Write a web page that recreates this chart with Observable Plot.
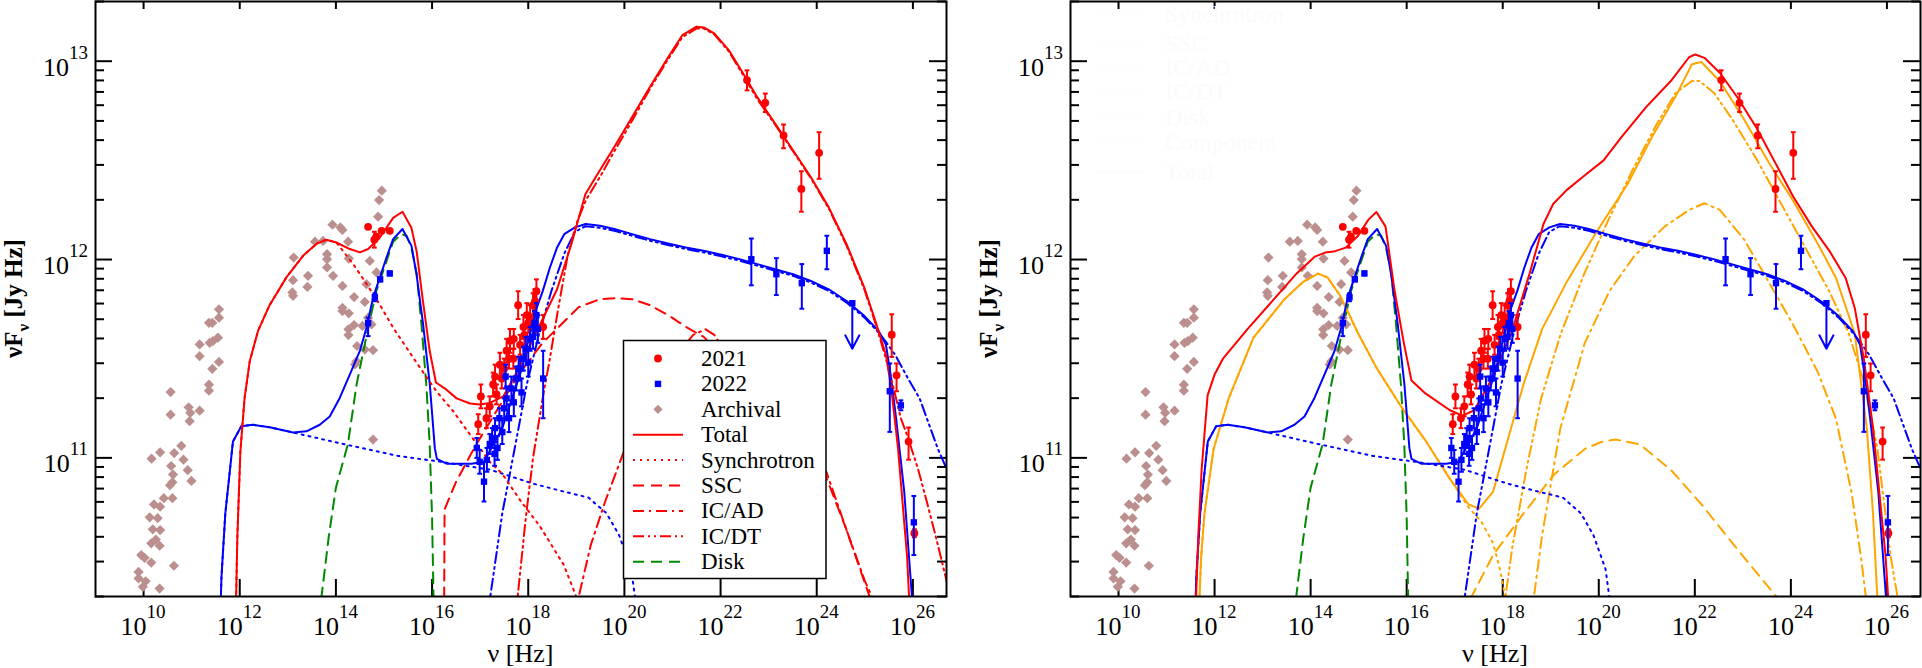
<!DOCTYPE html>
<html><head><meta charset="utf-8">
<script src="https://cdn.jsdelivr.net/npm/d3@7"></script>
<script src="https://cdn.jsdelivr.net/npm/@observablehq/plot@0.6"></script>
<style>
body{margin:0;background:#fff;}
#wrap{display:flex;width:1922px;height:668px;overflow:hidden;}
svg{display:block;flex:none;}
.ser, .ser text, .ser tspan{font-family:"Liberation Serif","Times New Roman","DejaVu Serif",serif !important;}
.ghost text{fill:#fbfbfb;}
.ghost line{stroke:#fcfcfc;}
</style></head><body><div id="wrap"></div>
<script>
// ---------- DATA (log10 nu [Hz], log10 nuFnu [Jy Hz]) ----------
const xTickExp = [10,12,14,16,18,20,22,24,26];
const yTickExp = [11,12,13];

// Archival (rosy-brown diamonds)
const archival = [
 [10.562,11.332],[10.562,11.218],[10.785,11.061],[10.937,11.255],[10.972,11.227],[10.958,11.185],[11.166,11.572],[11.166,11.513],[11.166,11.238],[11.36,11.681],[11.43,11.681],[11.374,11.58],[11.443,11.589],[11.547,11.606],[11.568,11.749],[11.568,11.707],[11.568,11.484],[11.43,11.449],[11.36,11.369],[11.36,11.339],
 [10.344,11.028],[10.166,10.996],[10.638,11.024],[10.829,10.991],[10.918,10.938],[10.995,10.884],[10.574,10.959],[10.612,10.916],[10.599,10.877],[10.548,10.862],[10.421,10.797],[10.599,10.797],[10.217,10.765],[10.344,10.754],[10.128,10.70],[10.293,10.696],[10.191,10.64],[10.344,10.636],[10.255,10.588],
 [10.16,10.569],[10.333,10.557],[9.952,10.51],[10.021,10.496],[10.16,10.472],[10.631,10.456],[9.896,10.425],[9.896,10.392],[10.042,10.378],[9.985,10.35],[10.333,10.341],
 [13.122,12.01],[13.108,11.896],[13.094,11.834],[13.108,11.817],[13.42,11.918],[13.407,11.862],[13.566,12.09],[13.733,12.094],[13.816,12.027],[13.816,12.002],[13.816,11.96],[13.928,12.176],[13.941,11.918],[14.094,12.162],[14.136,12.149],[14.253,12.09],[14.268,12.005],[14.136,11.867],[14.378,11.811],[14.601,11.786],[14.136,11.757],[14.136,11.74],[14.268,11.729],[14.261,11.648],[14.261,11.619],[14.378,11.670],[14.552,11.665],[14.636,11.876],[14.669,11.707],[14.74,11.673],[14.773,11.543],[14.601,11.546],[14.44,11.564],[14.427,11.487],[14.398,11.471],[14.844,11.935],[14.877,12.216],[14.898,12.30],[14.954,12.347],[14.705,11.993],[14.773,11.092]
];

// 2021 (red circles): [logNu, logF, logLow, logHigh]
const obs2021 = [
 [14.67,12.165,12.165,12.165],[14.80,12.10,12.06,12.14],[14.84,12.115,12.115,12.115],[14.95,12.145,12.145,12.145],[15.12,12.145,12.145,12.145],
 [16.96,11.17,11.12,11.22],[17.015,11.31,11.25,11.37],[17.13,11.20,11.15,11.25],[17.20,11.26,11.21,11.31],[17.27,11.37,11.31,11.43],[17.31,11.41,11.35,11.47],[17.34,11.32,11.27,11.37],[17.41,11.47,11.41,11.53],[17.45,11.40,11.35,11.45],[17.50,11.45,11.40,11.50],[17.55,11.54,11.48,11.60],[17.60,11.50,11.45,11.55],[17.62,11.59,11.53,11.65],[17.69,11.50,11.45,11.55],[17.70,11.60,11.55,11.65],[17.79,11.77,11.70,11.84],[17.83,11.57,11.52,11.62],[17.90,11.66,11.60,11.72],[17.92,11.62,11.57,11.67],[17.97,11.72,11.66,11.78],[18.00,11.68,11.63,11.73],[18.04,11.71,11.65,11.77],[18.10,11.77,11.71,11.83],[18.14,11.79,11.73,11.85],[18.17,11.84,11.78,11.90],[18.31,11.66,11.60,11.72],
 [22.55,12.905,12.853,12.954],[22.93,12.79,12.744,12.837],[23.31,12.626,12.561,12.681],[23.68,12.356,12.241,12.445],[24.05,12.538,12.407,12.642],
 [25.56,11.621,11.509,11.724],[25.66,11.416,11.336,11.476],[25.91,11.082,10.991,11.153],[26.03,10.62,10.60,10.64]
];

// 2022 (blue squares): [logNu, logF, logLow, logHigh]
const obs2022 = [
 [14.67,11.68,11.614,11.707],[14.81,11.81,11.79,11.83],[14.92,11.90,11.89,11.91],[15.12,11.93,11.92,11.94],
 [16.93,11.05,11.00,11.10],[16.99,10.98,10.92,11.04],[17.08,10.88,10.78,10.98],[17.14,10.99,10.93,11.05],[17.20,11.07,11.02,11.12],[17.25,11.10,11.05,11.15],[17.30,11.02,10.96,11.08],[17.31,11.15,11.10,11.20],[17.36,11.05,10.99,11.11],[17.40,11.20,11.15,11.25],[17.46,11.13,11.07,11.19],[17.50,11.25,11.20,11.30],[17.53,11.41,11.35,11.47],[17.55,11.30,11.24,11.36],[17.60,11.20,11.13,11.27],[17.65,11.35,11.29,11.41],[17.70,11.28,11.21,11.35],[17.75,11.40,11.34,11.46],[17.80,11.45,11.39,11.51],[17.83,11.45,11.40,11.50],[17.86,11.33,11.26,11.40],[17.90,11.50,11.44,11.56],[17.95,11.55,11.49,11.61],[18.00,11.48,11.41,11.55],[18.04,11.60,11.54,11.66],[18.10,11.61,11.55,11.67],[18.13,11.68,11.62,11.74],[18.17,11.72,11.66,11.78],[18.20,11.65,11.58,11.72],[18.31,11.40,11.20,11.54],
 [22.64,12.002,11.87,12.106],[23.16,11.926,11.821,12.007],[23.69,11.881,11.752,11.977],[24.21,12.044,11.951,12.12],
 [25.52,11.336,11.131,11.476],[25.75,11.265,11.24,11.29],[26.02,10.675,10.51,10.808]
];
// 2022 upper limit: [logNu, logF, arrow tip]
const ul2022 = [[24.74,11.78,11.55]];

// ---- Left-panel model curves ----
const redTotalL = [[11.90,10.0],[11.95,10.6],[12.013,11.032],[12.10,11.30],[12.21,11.49],[12.38,11.64],[12.62,11.77],[12.97,11.91],[13.32,12.02],[13.60,12.08],[13.80,12.10],[14.01,12.086],[14.29,12.053],[14.50,12.036],[14.67,12.053],[14.91,12.11],[15.19,12.21],[15.385,12.241],[15.57,12.16],[15.68,12.04],[15.81,11.79],[15.95,11.54],[16.08,11.38],[16.30,11.344],[16.51,11.30],[16.79,11.274],[16.99,11.269],[17.20,11.277],[17.48,11.31],[17.85,11.47],[18.2,11.65],[18.6,11.85],[18.9,12.08],[19.19,12.33],[19.49,12.45],[19.79,12.567],[20.16,12.718],[20.53,12.87],[20.91,13.02],[21.20,13.13],[21.50,13.174],[21.65,13.17],[21.87,13.14],[22.17,13.056],[22.47,12.938],[22.76,12.82],[23.135,12.685],[23.51,12.55],[23.88,12.415],[24.25,12.263],[24.62,12.078],[24.99,11.858],[25.22,11.69],[25.44,11.52],[25.55,11.35],[25.69,11.05],[25.88,10.5],[25.98,10.0]];
const redSynL = [[11.90,10.0],[11.95,10.6],[12.013,11.032],[12.10,11.30],[12.21,11.49],[12.38,11.64],[12.62,11.77],[12.97,11.91],[13.32,12.02],[13.60,12.08],[13.80,12.10],[14.01,12.086],[14.36,11.977],[14.64,11.876],[14.91,11.774],[15.19,11.656],[15.47,11.555],[15.75,11.454],[16.09,11.336],[16.44,11.235],[16.79,11.117],[17.2,10.98],[17.46,10.92],[17.85,10.78],[18.23,10.66],[18.74,10.46],[19.0,10.3],[19.1,10.2]];
const redSscL = [[16.25,10.2],[16.26,10.74],[16.5,10.88],[16.9,11.06],[17.3,11.22],[17.8,11.42],[18.3,11.58],[18.8,11.70],[19.05,11.76],[19.49,11.80],[19.79,11.805],[20.16,11.80],[20.53,11.77],[20.91,11.72],[21.28,11.66],[21.65,11.61],[22.3,11.45],[23.0,11.24],[23.6,11.06],[24.2,10.9],[24.6,10.65],[25.1,10.3],[25.2,10.2]];
const redIcadL = [[19.0,10.2],[19.05,10.3],[19.3,10.56],[19.6,10.78],[19.97,11.02],[20.3,11.2],[20.7,11.38],[21.1,11.52],[21.43,11.62],[21.69,11.648],[21.87,11.62],[22.2,11.5],[22.6,11.35],[23.1,11.18],[23.6,11.03],[24.2,10.93],[24.6,10.65],[25.0,10.38],[25.15,10.3],[25.25,10.2]];
const redIcdtL = [[17.75,10.2],[17.78,10.3],[17.95,10.7],[18.1,11.0],[18.3,11.3],[18.45,11.5],[18.6,11.72],[18.82,12.02],[19.0,12.18],[19.2,12.30],[19.5,12.42],[19.8,12.55],[20.16,12.70],[20.53,12.86],[20.91,13.01],[21.2,13.12],[21.5,13.165],[21.65,13.165],[21.87,13.135],[22.17,13.05],[22.47,12.93],[22.76,12.81],[23.135,12.68],[23.51,12.545],[23.88,12.41],[24.25,12.258],[24.62,12.07],[24.99,11.85],[25.22,11.68],[25.44,11.50],[25.6,11.35],[25.75,11.2],[25.9,11.1],[26.1,10.95],[26.3,10.77],[26.5,10.58],[26.67,10.41],[26.75,10.33]];

// ---- Blue (2022) model curves (same in both panels) ----
const blueTotal = [[11.57,10.0],[11.62,10.4],[11.70,10.72],[11.859,11.083],[12.033,11.159],[12.275,11.167],[12.623,11.154],[13.108,11.128],[13.387,11.134],[13.664,11.167],[13.872,11.209],[14.08,11.302],[14.288,11.42],[14.496,11.538],[14.636,11.656],[14.773,11.808],[14.913,11.909],[15.052,12.01],[15.19,12.103],[15.385,12.154],[15.572,12.069],[15.676,11.926],[15.814,11.673],[15.953,11.37],[16.057,11.049],[16.10,10.995],[16.31,10.97],[16.82,10.97],[17.08,10.98],[17.46,11.15],[17.84,11.43],[18.154,11.741],[18.303,11.842],[18.451,11.96],[18.6,12.061],[18.749,12.128],[18.972,12.162],[19.194,12.179],[19.492,12.17],[19.79,12.154],[20.161,12.128],[20.533,12.103],[20.906,12.081],[21.276,12.061],[21.648,12.044],[22.019,12.024],[22.392,12.002],[22.762,11.977],[23.135,11.951],[23.507,11.926],[23.878,11.892],[24.251,11.85],[24.621,11.791],[24.994,11.715],[25.291,11.639],[25.44,11.57],[25.55,11.40],[25.65,11.20],[25.82,10.83],[25.98,10.3],[26.02,10.0]];
const blueSyn = [[11.57,10.0],[11.62,10.4],[11.70,10.72],[11.859,11.083],[12.033,11.159],[12.275,11.167],[12.623,11.154],[13.108,11.128],[13.25,11.12],[14.15,11.07],[15.29,11.01],[16.19,10.98],[17.21,10.94],[18.1,10.87],[18.74,10.83],[19.25,10.80],[19.63,10.72],[19.89,10.61],[20.14,10.44],[20.22,10.3],[20.25,10.2]];
const blueIc = [[17.18,10.2],[17.21,10.3],[17.46,10.72],[17.72,11.05],[17.97,11.37],[18.23,11.63],[18.48,11.84],[18.75,12.03],[18.97,12.14],[19.19,12.168],[19.49,12.16],[19.79,12.145],[20.161,12.12],[20.533,12.095],[20.906,12.073],[21.276,12.053],[21.648,12.036],[22.019,12.016],[22.392,11.994],[22.762,11.969],[23.135,11.943],[23.507,11.918],[23.878,11.884],[24.251,11.842],[24.621,11.783],[24.994,11.707],[25.291,11.631],[25.44,11.585],[25.63,11.52],[25.9,11.40],[26.14,11.30],[26.52,11.045],[26.71,10.94]];
const disk = [[13.68,10.2],[13.70,10.30],[13.85,10.6],[14.0,10.85],[14.25,11.07],[14.43,11.37],[14.64,11.62],[14.84,11.84],[15.05,11.99],[15.19,12.09],[15.36,12.128],[15.47,12.12],[15.57,12.06],[15.68,11.93],[15.78,11.67],[15.88,11.37],[15.95,11.07],[16.0,10.7],[16.03,10.30],[16.04,10.2]];

// ---- Right-panel model curves ----
const redTotalR = [[11.60,10.2],[11.66,10.6],[11.73,10.94],[11.855,11.315],[12.0,11.42],[12.175,11.50],[12.69,11.65],[13.2,11.79],[13.71,11.93],[14.09,12.015],[14.3,12.035],[14.48,12.04],[14.73,12.06],[14.99,12.12],[15.2,12.20],[15.37,12.24],[15.56,12.166],[15.75,11.84],[15.94,11.58],[16.1,11.39],[16.39,11.325],[16.9,11.24],[17.16,11.213],[17.41,11.24],[17.8,11.41],[18.18,11.63],[18.56,11.93],[18.85,12.18],[19.05,12.28],[19.33,12.35],[19.71,12.425],[20.1,12.50],[20.48,12.62],[20.99,12.77],[21.5,12.90],[21.88,13.02],[22.01,13.034],[22.2,13.017],[22.52,12.942],[22.9,12.813],[23.29,12.662],[23.67,12.49],[24.05,12.317],[24.44,12.166],[24.82,12.037],[25.14,11.907],[25.33,11.756],[25.52,11.498],[25.71,11.153],[25.84,10.83],[25.97,10.51],[26.05,10.2]];
const orangeTotal = [[11.67,10.2],[11.72,10.5],[11.79,10.72],[11.98,11.045],[12.30,11.304],[12.81,11.606],[13.455,11.80],[13.835,11.886],[14.155,11.929],[14.35,11.91],[14.61,11.82],[14.99,11.627],[15.37,11.455],[15.88,11.26],[16.39,11.088],[16.9,10.894],[17.29,10.765],[17.51,10.744],[17.8,10.83],[18.05,11.045],[18.43,11.369],[18.82,11.649],[19.33,11.886],[19.965,12.144],[20.6,12.381],[21.11,12.619],[21.625,12.834],[21.94,12.985],[22.135,12.996],[22.52,12.899],[23.03,12.705],[23.54,12.489],[24.05,12.295],[24.56,12.08],[24.94,11.907],[25.33,11.627],[25.58,11.153],[25.71,10.72],[25.82,10.2]];
const orangeSyn = [[11.67,10.2],[11.72,10.5],[11.79,10.72],[11.98,11.045],[12.30,11.304],[12.81,11.606],[13.455,11.80],[13.835,11.886],[14.155,11.929],[14.35,11.91],[14.61,11.82],[14.99,11.627],[15.37,11.455],[15.88,11.26],[16.39,11.088],[16.9,10.894],[17.29,10.75],[17.55,10.68],[17.8,10.57],[17.95,10.43],[18.05,10.3],[18.1,10.2]];
const orangeSsc = [[17.3,10.2],[17.35,10.3],[17.8,10.51],[18.435,10.72],[19.07,10.916],[19.71,11.045],[20.05,11.08],[20.35,11.093],[20.86,11.067],[21.5,10.94],[22.14,10.765],[22.78,10.571],[23.29,10.42],[23.7,10.3],[23.8,10.25]];
const orangeIcad = [[18.6,10.2],[18.65,10.3],[18.82,10.61],[19.2,11.15],[19.71,11.58],[20.22,11.84],[20.73,12.015],[21.37,12.166],[21.88,12.25],[22.2,12.284],[22.52,12.25],[23.03,12.10],[23.54,11.886],[24.05,11.67],[24.56,11.433],[24.94,11.196],[25.26,10.83],[25.46,10.5],[25.56,10.3],[25.6,10.2]];
const orangeIcdt = [[18.0,10.2],[18.2,10.55],[18.5,10.95],[18.8,11.3],[19.2,11.62],[19.7,11.93],[20.2,12.2],[20.7,12.45],[21.2,12.68],[21.6,12.84],[21.94,12.90],[22.1,12.90],[22.4,12.84],[22.8,12.70],[23.3,12.50],[23.8,12.28],[24.3,12.06],[24.8,11.84],[25.2,11.63],[25.5,11.40],[25.8,11.05],[26.08,10.5],[26.22,10.3],[26.3,10.15]];

const legendLabels = ["2021","2022","Archival","Total","Synchrotron","SSC","IC/AD","IC/DT","Disk"];
const ghostLabels = ["Synchrotron","SSC","IC/AD","IC/DT","Disk","Component","Total"];

// ---------- STYLE ----------
const RED="#ff0000", BLUE="#0000ff", GREEN="#008a00", ORANGE="#ffa500", ARCH="#bc8f8f";
const DOT="2,5", DASH="11,7", DASHDOT="11,5,2,5", DASHDOTDOT="11,4,2,4,2,4";
const H = 668, MT = 1, MB = 72;
const capSymbol = {draw(ctx, size){ const w = Math.sqrt(size/Math.PI); ctx.moveTo(-w,0); ctx.lineTo(w,0);} };

const yMinor = [];
for (const n of [10,11,12,13]) for (let k=2;k<=9;k++){ const v=k*10**n; if (v>=2e10 && v<=2e13) yMinor.push(v); }

function line(arr, color, dash){
  return Plot.line(arr, {x:d=>10**d[0], y:d=>10**d[1], stroke:color, strokeWidth:2, strokeDasharray:dash, clip:true, strokeLinejoin:"round"});
}

function panel({width, ml, mr, curves}){
  const innerW = width-ml-mr, innerH = H-MT-MB;
  const marks = [
    Plot.tickX(xTickExp, {x:d=>10**d, insetTop:innerH-17, stroke:"black", strokeWidth:2}),
    Plot.tickX(xTickExp, {x:d=>10**d, insetBottom:innerH-8, stroke:"black", strokeWidth:2}),
    Plot.tickY(yTickExp, {y:d=>10**d, insetRight:innerW-17, stroke:"black", strokeWidth:2}),
    Plot.tickY(yTickExp, {y:d=>10**d, insetLeft:innerW-17, stroke:"black", strokeWidth:2}),
    Plot.tickY(yMinor, {y:d=>d, insetRight:innerW-9, stroke:"black", strokeWidth:2}),
    Plot.tickY(yMinor, {y:d=>d, insetLeft:innerW-9, stroke:"black", strokeWidth:2}),
    Plot.dot(archival, {x:d=>10**d[0], y:d=>10**d[1], symbol:"diamond2", r:4.6, fill:ARCH, clip:true}),
    ...curves.map(c=>line(c[0], c[1], c[2])),
    Plot.ruleX(obs2021.filter(d=>d[3]>d[2]), {x:d=>10**d[0], y1:d=>10**d[2], y2:d=>10**d[3], stroke:RED, strokeWidth:2, clip:true}),
    Plot.dot(obs2021.filter(d=>d[3]>d[2]), {x:d=>10**d[0], y:d=>10**d[2], symbol:capSymbol, r:2.4, stroke:RED, strokeWidth:2, fill:"none", clip:true}),
    Plot.dot(obs2021.filter(d=>d[3]>d[2]), {x:d=>10**d[0], y:d=>10**d[3], symbol:capSymbol, r:2.4, stroke:RED, strokeWidth:2, fill:"none", clip:true}),
    Plot.dot(obs2021, {x:d=>10**d[0], y:d=>10**d[1], r:3.9, fill:RED, clip:true}),
    Plot.ruleX(obs2022, {x:d=>10**d[0], y1:d=>10**d[2], y2:d=>10**d[3], stroke:BLUE, strokeWidth:2, clip:true}),
    Plot.dot(obs2022, {x:d=>10**d[0], y:d=>10**d[2], symbol:capSymbol, r:2.4, stroke:BLUE, strokeWidth:2, fill:"none", clip:true}),
    Plot.dot(obs2022, {x:d=>10**d[0], y:d=>10**d[3], symbol:capSymbol, r:2.4, stroke:BLUE, strokeWidth:2, fill:"none", clip:true}),
    Plot.dot(obs2022, {x:d=>10**d[0], y:d=>10**d[1], symbol:"square", r:3.6, fill:BLUE, clip:true}),
    Plot.arrow(ul2022, {x1:d=>10**d[0], y1:d=>10**d[1], x2:d=>10**d[0], y2:d=>10**d[2], stroke:BLUE, strokeWidth:2, headLength:14, headAngle:55}),
    Plot.dot(ul2022, {x:d=>10**d[0], y:d=>10**d[1], symbol:"square", r:3.6, fill:BLUE}),
    Plot.frame({stroke:"black", strokeWidth:2})
  ];
  const svg = Plot.plot({width, height:H, marginLeft:ml, marginRight:mr, marginTop:MT, marginBottom:MB,
    x:{type:"log", domain:[1e9,5e26], axis:null},
    y:{type:"log", domain:[2e10,2e13], axis:null},
    style:{background:"white"},
    marks});
  const sx = svg.scale("x"), sy = svg.scale("y");
  const g = d3.select(svg).append("g").attr("class","ser").attr("fill","black").attr("text-anchor","start");
  xTickExp.forEach(e=>{
    const t = g.append("text").attr("x", sx.apply(10**e)).attr("y", 635).attr("text-anchor","middle").attr("font-size",26);
    t.append("tspan").text("10");
    t.append("tspan").attr("dy",-17).attr("font-size",19).text(e);
  });
  yTickExp.forEach(e=>{
    const t = g.append("text").attr("x", ml-7).attr("y", sy.apply(10**e)+15).attr("text-anchor","end").attr("font-size",26);
    t.append("tspan").text("10");
    t.append("tspan").attr("dy",-17).attr("font-size",19).text(e);
  });
  const yl = g.append("text").attr("transform",`translate(${ml-73},${(MT+H-MB)/2}) rotate(-90)`).attr("text-anchor","middle").attr("font-size",25).attr("font-weight","bold");
  yl.append("tspan").text("νF");
  yl.append("tspan").attr("dy",7).attr("font-size",17).text("ν");
  yl.append("tspan").attr("dy",-7).text(" [Jy Hz]");
  g.append("text").attr("x", ml+innerW/2).attr("y", 662).attr("text-anchor","middle").attr("font-size",26).text("ν [Hz]");
  return {svg, g};
}

const wrap = document.getElementById("wrap");

// LEFT PANEL
const left = panel({width:960, ml:95, mr:14, curves:[
  [disk, GREEN, DASH],
  [blueSyn, BLUE, DOT],
  [blueIc, BLUE, DASHDOTDOT],
  [blueTotal, BLUE, null],
  [redSynL, RED, DOT],
  [redSscL, RED, DASH],
  [redIcadL, RED, DASHDOT],
  [redIcdtL, RED, DASHDOTDOT],
  [redTotalL, RED, null]
]});
{
  const L = left.g.append("g");
  L.append("rect").attr("x",623.5).attr("y",340.5).attr("width",202.5).attr("height",238).attr("fill","white").attr("stroke","black").attr("stroke-width",1.5);
  const styles = [
    {sym:"circle", c:RED},{sym:"square", c:BLUE},{sym:"diamond", c:ARCH},
    {c:RED, d:null},{c:RED, d:DOT},{c:RED, d:DASH},{c:RED, d:DASHDOT},{c:RED, d:DASHDOTDOT},{c:GREEN, d:DASH}
  ];
  legendLabels.forEach((lab,i)=>{
    const cy = 358.5 + i*25.4, s = styles[i];
    if (s.sym==="circle") L.append("circle").attr("cx",658).attr("cy",cy).attr("r",3.9).attr("fill",s.c);
    else if (s.sym==="square") L.append("rect").attr("x",654.8).attr("y",cy-3.2).attr("width",6.4).attr("height",6.4).attr("fill",s.c);
    else if (s.sym==="diamond") L.append("path").attr("d",`M658,${cy-4.6}L${662.6},${cy}L658,${cy+4.6}L${653.4},${cy}Z`).attr("fill",s.c);
    else L.append("line").attr("x1",633).attr("x2",683).attr("y1",cy).attr("y2",cy).attr("stroke",s.c).attr("stroke-width",2).attr("stroke-dasharray",s.d);
    L.append("text").attr("x",701).attr("y",cy+7.5).attr("text-anchor","start").attr("font-size",23).text(lab);
  });
}
wrap.appendChild(left.svg);

// RIGHT PANEL
const right = panel({width:962, ml:110, mr:2, curves:[
  [disk, GREEN, DASH],
  [orangeSyn, ORANGE, DOT],
  [orangeSsc, ORANGE, DASH],
  [orangeIcad, ORANGE, DASHDOT],
  [orangeIcdt, ORANGE, DASHDOTDOT],
  [orangeTotal, ORANGE, null],
  [blueSyn, BLUE, DOT],
  [blueIc, BLUE, DASHDOTDOT],
  [blueTotal, BLUE, null],
  [redTotalR, RED, null]
]});
{
  const G = right.g.append("g").attr("class","ghost");
  const ys = [14,43,67,91,117,142,172];
  ghostLabels.forEach((lab,i)=>{
    G.append("line").attr("x1",137).attr("x2",187).attr("y1",ys[i]).attr("y2",ys[i]).attr("stroke-width",1.5);
    G.append("text").attr("x",205).attr("y",ys[i]+8).attr("text-anchor","start").attr("font-size",24).text(lab);
  });
}
wrap.appendChild(right.svg);
</script>
</body></html>
